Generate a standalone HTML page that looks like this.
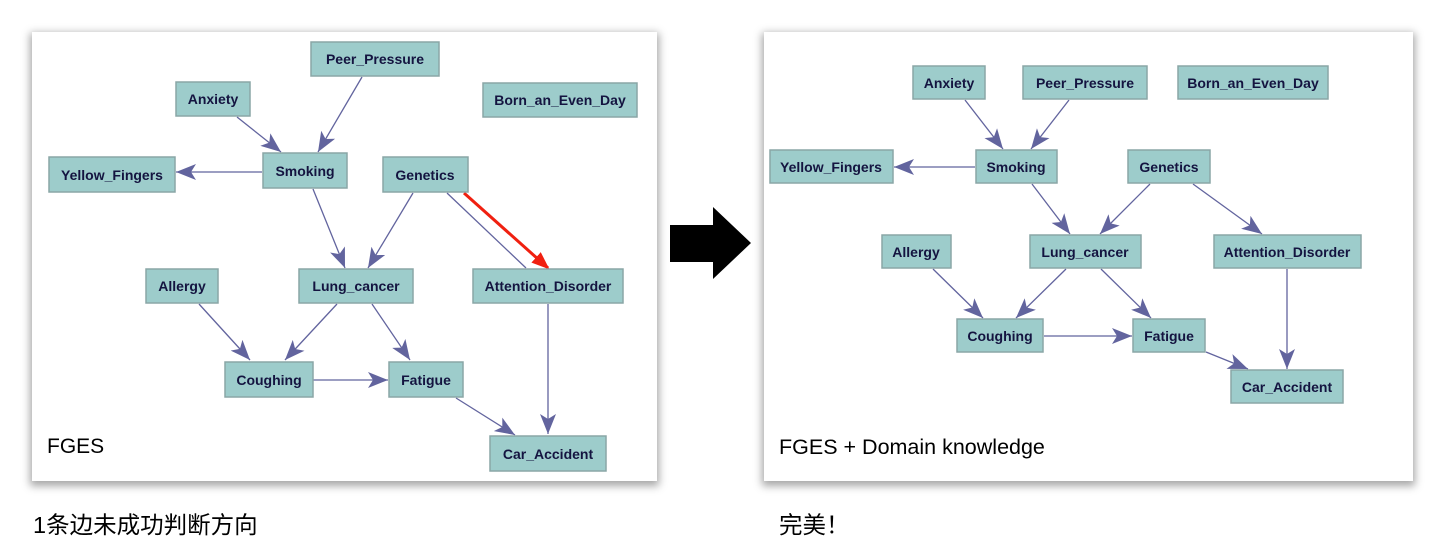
<!DOCTYPE html>
<html><head><meta charset="utf-8"><style>
html,body{margin:0;padding:0;background:#fff;width:1445px;height:552px;overflow:hidden;}
.p{position:absolute;background:#fff;box-shadow:0 3px 8px 2px rgba(0,0,0,0.35);}
svg{position:absolute;left:0;top:0;}
.n{fill:#9dcccb;stroke:#8aa6a6;stroke-width:1.5;}
.t{font-family:"Liberation Sans Narrow","Liberation Sans",sans-serif;font-weight:bold;font-size:14px;fill:#141440;text-anchor:middle;dominant-baseline:central;}
.e{stroke:#62649e;stroke-width:1.3;fill:none;}
.lb{position:absolute;font-family:"Liberation Sans","Noto Sans CJK SC",sans-serif;color:#000;}
</style></head><body>
<div class="p" style="left:32px;top:32px;width:625px;height:449px;"></div>
<div class="p" style="left:764px;top:32px;width:649px;height:449px;"></div>
<svg width="1445" height="552" viewBox="0 0 1445 552">
<defs>
<marker id="a" markerWidth="20" markerHeight="16" refX="20" refY="8" orient="auto" markerUnits="userSpaceOnUse"><path d="M0,0 L20,8 L0,16 L5,8 Z" fill="#62649e"/></marker>
<marker id="r" markerWidth="18" markerHeight="14" refX="16" refY="7" orient="auto" markerUnits="userSpaceOnUse"><path d="M0,0 L18,7 L0,14 Z" fill="#f02010"/></marker>
</defs>
<g class="e">
<line x1="362" y1="77" x2="318" y2="152" marker-end="url(#a)"/>
<line x1="237" y1="117" x2="281" y2="152" marker-end="url(#a)"/>
<line x1="262" y1="172" x2="176" y2="172" marker-end="url(#a)"/>
<line x1="313" y1="189" x2="345" y2="268" marker-end="url(#a)"/>
<line x1="413" y1="193" x2="368" y2="268" marker-end="url(#a)"/>
<line x1="447" y1="193" x2="526" y2="268"/>
<line x1="199" y1="304" x2="250" y2="360" marker-end="url(#a)"/>
<line x1="337" y1="304" x2="285" y2="360" marker-end="url(#a)"/>
<line x1="372" y1="304" x2="410" y2="360" marker-end="url(#a)"/>
<line x1="313" y1="380" x2="388" y2="380" marker-end="url(#a)"/>
<line x1="456" y1="398" x2="515" y2="435" marker-end="url(#a)"/>
<line x1="548" y1="304" x2="548" y2="434" marker-end="url(#a)"/>
</g>
<line x1="464" y1="193" x2="548" y2="268" stroke="#f02010" stroke-width="3" marker-end="url(#r)"/>
<g class="e">
<line x1="965" y1="100" x2="1003" y2="149" marker-end="url(#a)"/>
<line x1="1069" y1="100" x2="1031" y2="149" marker-end="url(#a)"/>
<line x1="975" y1="167" x2="894" y2="167" marker-end="url(#a)"/>
<line x1="1032" y1="184" x2="1070" y2="234" marker-end="url(#a)"/>
<line x1="1150" y1="184" x2="1100" y2="234" marker-end="url(#a)"/>
<line x1="1193" y1="184" x2="1262" y2="234" marker-end="url(#a)"/>
<line x1="933" y1="269" x2="983" y2="318" marker-end="url(#a)"/>
<line x1="1066" y1="269" x2="1016" y2="318" marker-end="url(#a)"/>
<line x1="1101" y1="269" x2="1151" y2="318" marker-end="url(#a)"/>
<line x1="1044" y1="336" x2="1132" y2="336" marker-end="url(#a)"/>
<line x1="1206" y1="352" x2="1248" y2="369" marker-end="url(#a)"/>
<line x1="1287" y1="269" x2="1287" y2="369" marker-end="url(#a)"/>
</g>
<g>
<rect class="n" x="311" y="42" width="128" height="34"/><text class="t" x="375" y="59">Peer_Pressure</text>
<rect class="n" x="176" y="82" width="74" height="34"/><text class="t" x="213" y="99">Anxiety</text>
<rect class="n" x="483" y="83" width="154" height="34"/><text class="t" x="560" y="100">Born_an_Even_Day</text>
<rect class="n" x="49" y="157" width="126" height="35"/><text class="t" x="112" y="175">Yellow_Fingers</text>
<rect class="n" x="263" y="153" width="84" height="35"/><text class="t" x="305" y="171">Smoking</text>
<rect class="n" x="383" y="157" width="85" height="35"/><text class="t" x="425" y="175">Genetics</text>
<rect class="n" x="146" y="269" width="72" height="34"/><text class="t" x="182" y="286">Allergy</text>
<rect class="n" x="299" y="269" width="114" height="34"/><text class="t" x="356" y="286">Lung_cancer</text>
<rect class="n" x="473" y="269" width="150" height="34"/><text class="t" x="548" y="286">Attention_Disorder</text>
<rect class="n" x="225" y="362" width="88" height="35"/><text class="t" x="269" y="380">Coughing</text>
<rect class="n" x="389" y="362" width="74" height="35"/><text class="t" x="426" y="380">Fatigue</text>
<rect class="n" x="490" y="436" width="116" height="35"/><text class="t" x="548" y="454">Car_Accident</text>
</g>
<g>
<rect class="n" x="913" y="66" width="72" height="33"/><text class="t" x="949" y="83">Anxiety</text>
<rect class="n" x="1023" y="66" width="124" height="33"/><text class="t" x="1085" y="83">Peer_Pressure</text>
<rect class="n" x="1178" y="66" width="150" height="33"/><text class="t" x="1253" y="83">Born_an_Even_Day</text>
<rect class="n" x="770" y="150" width="123" height="33"/><text class="t" x="831" y="167">Yellow_Fingers</text>
<rect class="n" x="976" y="150" width="81" height="33"/><text class="t" x="1016" y="167">Smoking</text>
<rect class="n" x="1128" y="150" width="82" height="33"/><text class="t" x="1169" y="167">Genetics</text>
<rect class="n" x="882" y="235" width="69" height="33"/><text class="t" x="916" y="252">Allergy</text>
<rect class="n" x="1030" y="235" width="111" height="33"/><text class="t" x="1085" y="252">Lung_cancer</text>
<rect class="n" x="1214" y="235" width="147" height="33"/><text class="t" x="1287" y="252">Attention_Disorder</text>
<rect class="n" x="957" y="319" width="86" height="33"/><text class="t" x="1000" y="336">Coughing</text>
<rect class="n" x="1133" y="319" width="72" height="33"/><text class="t" x="1169" y="336">Fatigue</text>
<rect class="n" x="1231" y="370" width="112" height="33"/><text class="t" x="1287" y="387">Car_Accident</text>
</g>
<path d="M670,225 L713,225 L713,207 L751,243 L713,279 L713,262 L670,262 Z" fill="#000"/>
</svg>
<div class="lb" style="left:47px;top:435px;font-size:21px;">FGES</div>
<div class="lb" style="left:779px;top:435px;font-size:21.5px;">FGES + Domain knowledge</div>
<div class="lb" style="left:33px;top:506px;font-size:23.5px;">1条边未成功判断方向</div>
<div class="lb" style="left:779px;top:506px;font-size:23.5px;">完美！</div>
</body></html>
